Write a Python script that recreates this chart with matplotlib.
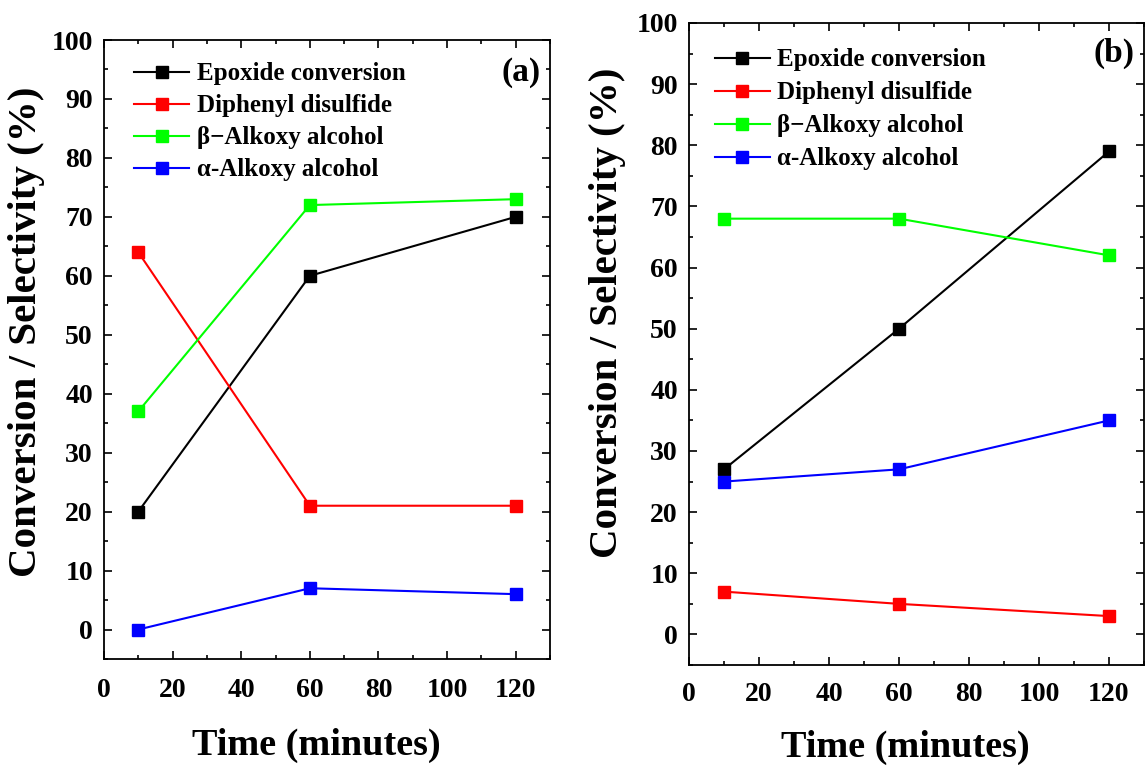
import matplotlib.pyplot as plt
from matplotlib.ticker import MultipleLocator

plt.rcParams['font.family'] = ['Liberation Serif', 'DejaVu Serif']
plt.rcParams['font.weight'] = 'bold'

time = [10, 60, 120]

# panel (a)
epoxide_a = [20, 60, 70]
disulfide_a = [64, 21, 21]
beta_a = [37, 72, 73]
alpha_a = [0, 7, 6]

# panel (b)
epoxide_b = [27, 50, 79]
disulfide_b = [7, 5, 3]
beta_b = [68, 68, 62]
alpha_b = [25, 27, 35]

labels = ["Epoxide conversion", "Diphenyl disulfide",
          "\u03b2\u2212Alkoxy alcohol", "\u03b1-Alkoxy alcohol"]
colors = ["black", "red", "#00ff00", "blue"]

fig = plt.figure(figsize=(11.46, 7.68), dpi=100)
ax_a = fig.add_axes([104 / 1146, 1 - 659 / 768, 446 / 1146, 619 / 768])
ax_b = fig.add_axes([689 / 1146, 1 - 665 / 768, 455 / 1146, 642 / 768])


def draw(ax, series, tag, tag_y, legend_anchor, spacing, xpad, xlab_y, ylab_x, ylab_y):
    for vals, lab, c in zip(series, labels, colors):
        ax.plot(time, vals, color=c, lw=1.5, marker='s', ms=8, label=lab)
    ax.set_xlim(0, 130)
    ax.set_ylim(-5, 100)
    ax.xaxis.set_major_locator(MultipleLocator(20))
    ax.xaxis.set_minor_locator(MultipleLocator(10))
    ax.yaxis.set_major_locator(MultipleLocator(10))
    ax.yaxis.set_minor_locator(MultipleLocator(5))
    ax.tick_params(which='both', direction='in', top=True, right=True, width=1.2)
    ax.tick_params(which='major', length=6, labelsize=20)
    ax.tick_params(which='minor', length=3)
    ax.tick_params(axis='x', pad=xpad)
    ax.tick_params(axis='y', pad=8)
    for s in ax.spines.values():
        s.set_linewidth(1.3)
    ax.set_xlabel("Time (minutes)", fontsize=27.5, fontweight='bold', va='center')
    ax.xaxis.set_label_coords(0.475, xlab_y)
    ax.set_ylabel("Conversion / Selectivity (%)", fontsize=29.5, fontweight='bold', va='center')
    ax.yaxis.set_label_coords(ylab_x, ylab_y)
    ax.text(0.98, tag_y, tag, transform=ax.transAxes, fontsize=24,
            fontweight='bold', ha='right', va='center')
    ax.legend(loc='upper left', bbox_to_anchor=legend_anchor, frameon=False,
              fontsize=18, handlelength=2.2, handletextpad=0.3,
              labelspacing=spacing, borderaxespad=0)


draw(ax_a, [epoxide_a, disulfide_a, beta_a, alpha_a], "(a)", 0.947,
     (0.045, 0.98), 0.36, 14, -0.139, -0.173, 0.528)
draw(ax_b, [epoxide_b, disulfide_b, beta_b, alpha_b], "(b)", 0.953,
     (0.035, 0.976), 0.4, 12, -0.129, -0.180, 0.548)

fig.savefig("out.png", dpi=100)
